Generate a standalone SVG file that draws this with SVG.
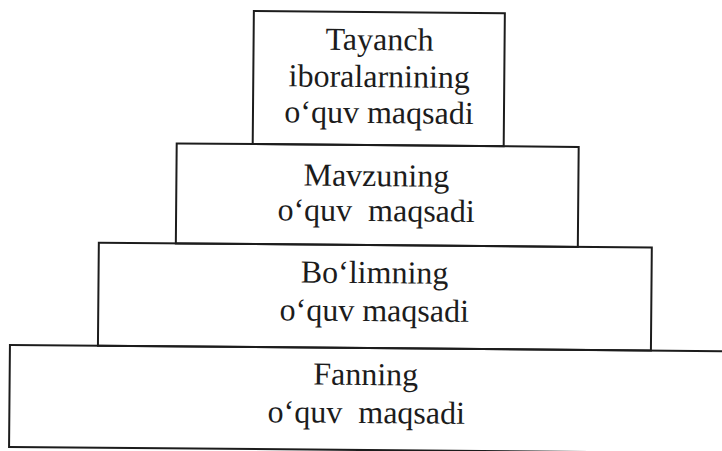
<svg xmlns="http://www.w3.org/2000/svg" width="722" height="451" viewBox="0 0 722 451">
  <style>
    .box { fill: none; stroke: #1c1c1c; stroke-width: 2; }
    .lbl { font-family: "Liberation Serif", "Times New Roman", serif; font-size: 32px; fill: #1c1c1c; text-anchor: middle; }
  </style>
  <rect width="722" height="451" fill="#ffffff"/>
  <g transform="rotate(0.5 361 225)">
    <g id="node-tayanch">
      <rect class="box" x="252" y="12" width="251" height="133"/>
      <text class="lbl" x="378" y="50">Tayanch</text>
      <text class="lbl" x="378" y="87">iboralarnining</text>
      <text class="lbl" x="378" y="123">o‘quv maqsadi</text>
    </g>
    <g id="node-mavzu">
      <rect class="box" x="176" y="145" width="402" height="100"/>
      <text class="lbl" x="376" y="186">Mavzuning</text>
      <text class="lbl" x="376" y="221" xml:space="preserve">o‘quv  maqsadi</text>
    </g>
    <g id="node-bolim">
      <rect class="box" x="99" y="245" width="553" height="103"/>
      <text class="lbl" x="375" y="283">Bo‘limning</text>
      <text class="lbl" x="375" y="321">o‘quv maqsadi</text>
    </g>
    <g id="node-fan">
      <rect class="box" x="11" y="348" width="714" height="102"/>
      <text class="lbl" x="367" y="385">Fanning</text>
      <text class="lbl" x="368" y="423" xml:space="preserve">o‘quv  maqsadi</text>
    </g>
  </g>
</svg>
